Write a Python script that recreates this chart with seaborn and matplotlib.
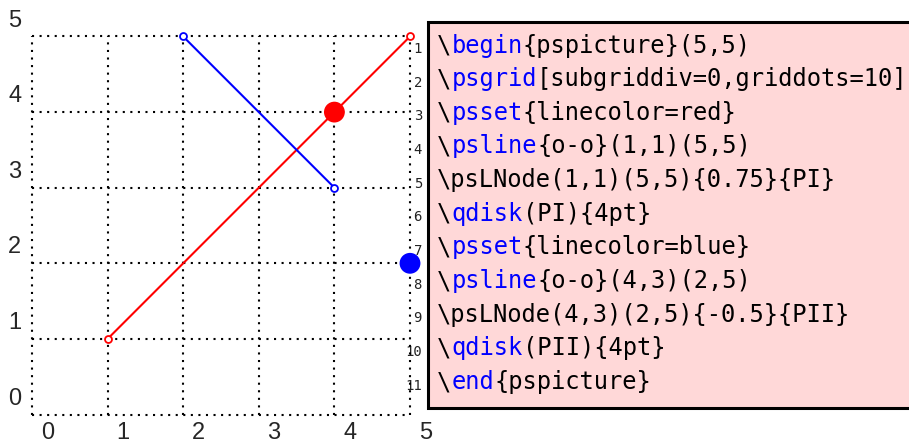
import matplotlib
matplotlib.use("Agg")
import matplotlib.pyplot as plt
import seaborn as sns
from matplotlib.patches import Rectangle

# grid values
grid_ticks = [0, 1, 2, 3, 4, 5]

# red line (1,1)-(5,5) and node PI
red_x = [1, 5]
red_y = [1, 5]
pi_x = [4]
pi_y = [4]

# blue line (4,3)-(2,5) and node PII
blue_x = [4, 2]
blue_y = [3, 5]
pii_x = [5]
pii_y = [2]

# code listing: (text, colour) pieces per line
code_lines = [
    [("\\", "black"), ("begin", "blue"), ("{pspicture}(5,5)", "black")],
    [("\\", "black"), ("psgrid", "blue"), ("[subgriddiv=0,griddots=10]", "black")],
    [("\\", "black"), ("psset", "blue"), ("{linecolor=red}", "black")],
    [("\\", "black"), ("psline", "blue"), ("{o-o}(1,1)(5,5)", "black")],
    [("\\psLNode(1,1)(5,5){0.75}{PI}", "black")],
    [("\\", "black"), ("qdisk", "blue"), ("(PI){4pt}", "black")],
    [("\\", "black"), ("psset", "blue"), ("{linecolor=blue}", "black")],
    [("\\", "black"), ("psline", "blue"), ("{o-o}(4,3)(2,5)", "black")],
    [("\\psLNode(4,3)(2,5){-0.5}{PII}", "black")],
    [("\\", "black"), ("qdisk", "blue"), ("(PII){4pt}", "black")],
    [("\\", "black"), ("end", "blue"), ("{pspicture}", "black")],
]

sns.set_style("white")
plt.rcParams["font.family"] = ["Liberation Sans", "DejaVu Sans"]

W, H = 909, 446
fig = plt.figure(figsize=(W / 100, H / 100), dpi=100)

# overlay in pixel units for the listing box
tax = fig.add_axes([0, 0, 1, 1])
tax.set_xlim(0, W)
tax.set_ylim(H, 0)
tax.axis("off")

tax.add_patch(Rectangle((428, 22), 500, 386, facecolor="#FFD8D8",
                        edgecolor="black", linewidth=2.2, zorder=1))

fs_code = 17.1
adv = 0.602 * fs_code * 100 / 72  # monospace advance in px
y0, dy = 45.5, 33.65
for i, pieces in enumerate(code_lines):
    y = y0 + i * dy
    x = 437
    for txt, col in pieces:
        tax.text(x, y, txt, color=col, fontsize=fs_code, family="DejaVu Sans Mono",
                 ha="left", va="center", zorder=2)
        x += len(txt) * adv
    tax.text(422, y + 3.5, str(i + 1), fontsize=10, family="DejaVu Sans Mono",
             ha="right", va="center", color="#222222", zorder=2)

# main picture axes
ax = fig.add_axes([32 / W, (H - 414.5) / H, 378 / W, 378 / H])
ax.set_facecolor("none")
ax.set_xlim(0, 5)
ax.set_ylim(0, 5)
ax.axis("off")

dots = (0, (1, 2.63))
ax.vlines(grid_ticks, 0, 5, colors="black", linewidth=1.5, linestyles=[dots],
          clip_on=False, zorder=1)
ax.hlines(grid_ticks, 0, 5, colors="black", linewidth=1.5, linestyles=[dots],
          clip_on=False, zorder=1)

for v in grid_ticks:
    ax.annotate(str(v), (v, 0), xytext=(11, -13.5), textcoords="offset points",
                ha="center", va="center", fontsize=17)
    ax.annotate(str(v), (0, v), xytext=(-12.3, 11.5), textcoords="offset points",
                ha="center", va="center", fontsize=17)

sns.lineplot(x=red_x, y=red_y, ax=ax, sort=False, estimator=None, color="red",
             linewidth=1.5, marker="o", markersize=5, markerfacecolor="white",
             markeredgecolor="red", markeredgewidth=1.3, clip_on=False, zorder=3)
sns.lineplot(x=blue_x, y=blue_y, ax=ax, sort=False, estimator=None, color="blue",
             linewidth=1.5, marker="o", markersize=5, markerfacecolor="white",
             markeredgecolor="blue", markeredgewidth=1.3, clip_on=False, zorder=3)
sns.scatterplot(x=pi_x, y=pi_y, ax=ax, s=225, color="red", edgecolor="none",
                clip_on=False, zorder=4)
sns.scatterplot(x=pii_x, y=pii_y, ax=ax, s=225, color="blue", edgecolor="none",
                clip_on=False, zorder=4)

fig.savefig("out.png", dpi=100)
